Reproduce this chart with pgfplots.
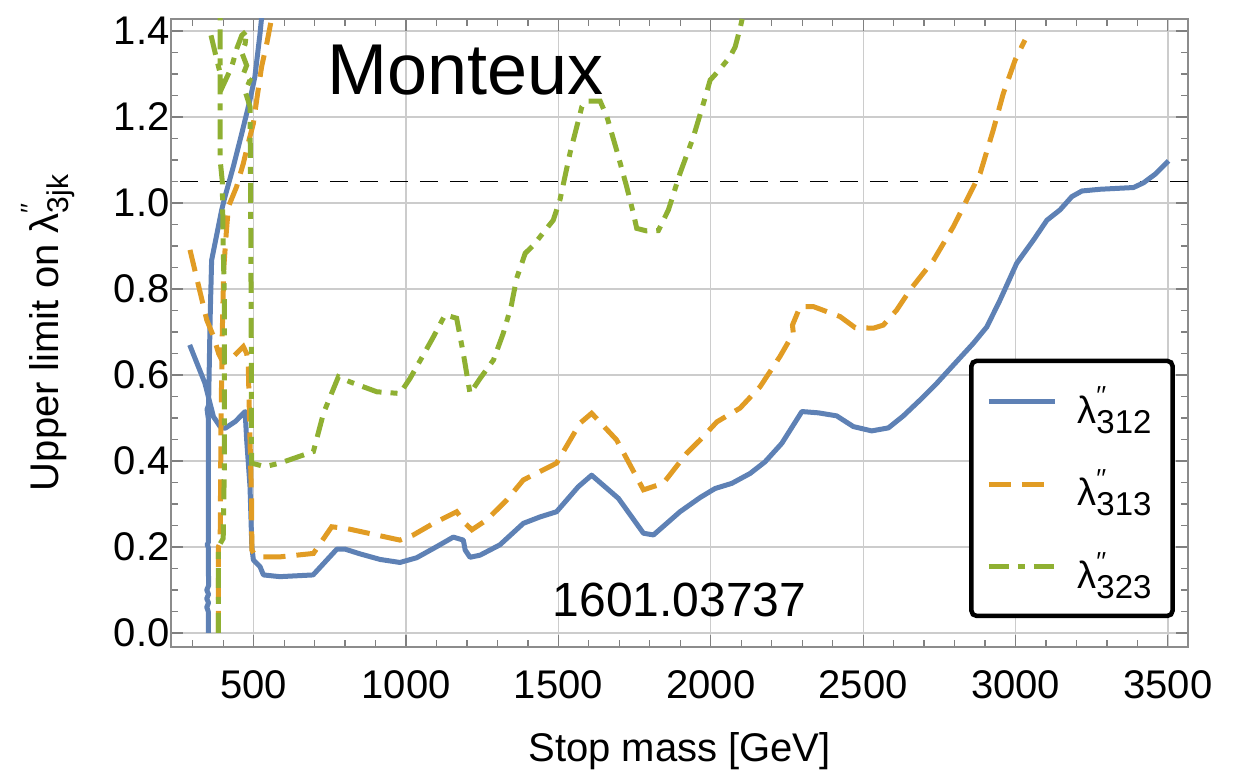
\documentclass[border=0pt]{standalone}
\usepackage{fontspec}
\setmainfont{Liberation Sans}
\usepackage{pgfplots}
\pgfplotsset{compat=1.18}
\definecolor{mblue}{RGB}{94,129,181}
\definecolor{morange}{RGB}{225,156,36}
\definecolor{mgreen}{RGB}{143,176,50}
\newcommand{\lamleg}[1]{\fontsize{38}{42}\selectfont λ\rlap{\raisebox{0.48em}{\fontsize{26}{26}\selectfont ′′}}\raisebox{-0.27em}{\fontsize{33}{33}\selectfont #1}}
\newcommand{\lamy}[1]{λ\rlap{\raisebox{0.5em}{\fontsize{26}{26}\selectfont ′′}}\raisebox{-0.25em}{\fontsize{30}{30}\selectfont #1}}
\begin{document}
\begin{tikzpicture}
\useasboundingbox (0,0) rectangle (1236pt,778pt);
\begin{axis}[
  at={(171pt,131pt)}, anchor=south west,
  width=1017pt, height=628pt, scale only axis,
  xmin=228.7, xmax=3566, ymin=-0.0326, ymax=1.428,
  unbounded coords=jump,
  xtick={500,1000,1500,2000,2500,3000,3500},
  minor xtick={300,400,...,3500},
  ytick={0,0.2,0.4,0.6,0.8,1.0,1.2,1.4},
  minor ytick={0.05,0.1,0.15,0.25,0.3,0.35,0.45,0.5,0.55,0.65,0.7,0.75,0.85,0.9,0.95,1.05,1.1,1.15,1.25,1.3,1.35},
  scaled ticks=false,
  tick pos=both, ticklabel pos=left, tick align=inside,
  major tick length=12pt, minor tick length=7pt,
  grid=major, major grid style={black!20, line width=1.3pt},
  axis line style={black!45, line width=1.5pt},
  tick style={black!50, line width=1.2pt},
  /pgf/number format/assume math mode=true,
  /pgf/number format/1000 sep={},
  yticklabel style={/pgf/number format/fixed, /pgf/number format/fixed zerofill, /pgf/number format/precision=1, xshift=2pt},
  ticklabel style={font=\fontsize{40}{44}\selectfont},
  xticklabel style={yshift=-20pt},
  label style={font=\fontsize{40}{44}\selectfont},
  xlabel={Stop mass [GeV]},
  ylabel={Upper limit on \lamy{3jk}},
  xlabel style={at={(axis description cs:0.5,-0.166)}, anchor=center},
  ylabel style={at={(axis description cs:-0.121,0.5)}, anchor=center},
  legend style={at={(0.987,0.046)}, anchor=south east, draw=black, line width=4.5pt,
    rounded corners=5pt, fill=white, inner xsep=15pt, inner ysep=20pt, row sep=33pt,
    cells={anchor=west}, nodes={inner sep=6pt}},
  legend image code/.code={\draw[#1] (0pt,0.42em) -- (66pt,0.42em);},
]
\addplot[black, line width=1.8pt, dash pattern=on 18pt off 12pt, forget plot] coordinates {(258,1.05) (3600,1.05)};

\addplot[mblue, line width=5pt, line join=round] coordinates {
(290,0.670) (340,0.581) (368,0.503) (390,0.480) (406,0.476) (440,0.492) (472,0.515) (477,0.449) (488,0.340) (494,0.200) (499,0.170) (521,0.154) (532,0.135) (586,0.131) (695,0.135) (773,0.195) (800,0.195) (849,0.184) (915,0.171) (980,0.164) (1035,0.175) (1101,0.201) (1155,0.223) (1188,0.216) (1194,0.193) (1210,0.176) (1243,0.181) (1308,0.205) (1385,0.255) (1440,0.270) (1494,0.282) (1565,0.340) (1609,0.367) (1697,0.313) (1779,0.232) (1812,0.228) (1899,0.282) (1965,0.315) (2014,0.336) (2069,0.348) (2129,0.371) (2178,0.398) (2233,0.441) (2299,0.515) (2353,0.512) (2413,0.505) (2468,0.480) (2528,0.470) (2583,0.477) (2632,0.505) (2687,0.542) (2742,0.581) (2796,0.623) (2862,0.674) (2906,0.712) (2949,0.774) (3004,0.860) (3059,0.914) (3103,0.960) (3146,0.984) (3185,1.015) (3218,1.028) (3278,1.032) (3387,1.036) (3420,1.047) (3458,1.067) (3502,1.098)
(nan,nan)
(351,0.0) (351,0.05) (346,0.06) (352,0.07) (346,0.08) (352,0.09) (346,0.10) (352,0.11) (351,0.20) (347,0.205) (351,0.21) (351,0.50) (347,0.52) (352,0.53) (357,0.728) (362,0.867) (384,0.945) (395,0.984) (406,1.015) (433,1.084) (461,1.162) (488,1.240) (504,1.294) (521,1.395) (530,1.46)
};
\addlegendentry{\hspace{14pt}\lamleg{312}\hspace{8pt}}

\addplot[morange, line width=5pt, dash pattern=on 22pt off 11pt] coordinates {
(291,0.891) (346,0.728) (368,0.690) (385,0.650) (400,0.628) (433,0.643) (466,0.666) (477,0.650) (482,0.628) (485,0.540) (488,0.449) (493,0.309) (494,0.193) (500,0.186) (520,0.177) (586,0.177) (696,0.185) (756,0.247) (805,0.243) (980,0.216) (1024,0.228) (1090,0.255) (1166,0.282) (1194,0.255) (1216,0.240) (1265,0.263) (1330,0.309) (1385,0.356) (1494,0.395) (1571,0.488) (1609,0.511) (1691,0.449) (1779,0.333) (1844,0.348) (1921,0.418) (1965,0.449) (2020,0.491) (2096,0.523) (2162,0.573) (2227,0.643) (2271,0.697) (2268,0.716) (2293,0.759) (2337,0.759) (2424,0.736) (2474,0.710) (2534,0.709) (2566,0.716) (2610,0.751) (2654,0.798) (2731,0.867) (2796,0.945) (2840,1.007) (2884,1.069) (2927,1.170) (2960,1.255) (2999,1.333) (3031,1.379)
(nan,nan)
(384,0.0) (384,0.20) (390,0.21) (393,0.50) (397,0.70) (402,0.85) (410,0.93) (417,0.991) (444,1.038) (466,1.092) (482,1.139) (499,1.185) (510,1.240) (526,1.317) (543,1.371) (559,1.43) (565,1.46)
};
\addlegendentry{\hspace{14pt}\lamleg{313}\hspace{8pt}}

\addplot[mgreen, line width=5pt, dash pattern=on 20pt off 9pt on 7pt off 9pt] coordinates {
(360,1.39) (379,1.333) (400,1.274) (428,1.317) (445,1.36) (461,1.39) (477,1.40) (472,1.37) (461,1.35) (477,1.32) (466,1.30) (488,1.286) (472,1.26) (488,1.224) (490,1.0) (492,0.7) (493,0.395) (537,0.387) (586,0.395) (696,0.422) (729,0.511) (778,0.596) (816,0.584) (904,0.561) (980,0.557) (1013,0.592) (1057,0.647) (1090,0.689) (1128,0.740) (1166,0.732) (1188,0.650) (1210,0.557) (1243,0.592) (1287,0.635) (1319,0.697) (1345,0.760) (1363,0.825) (1391,0.883) (1418,0.902) (1483,0.960) (1505,1.007) (1538,1.116) (1577,1.224) (1593,1.237) (1637,1.237) (1659,1.201) (1691,1.123) (1724,1.038) (1746,0.976) (1757,0.941) (1790,0.935) (1828,0.936) (1861,0.984) (1899,1.069) (1943,1.154) (1976,1.232) (1998,1.286) (2025,1.307) (2063,1.340) (2080,1.363) (2096,1.406) (2110,1.45)
(nan,nan)
(384,0.0) (384,0.20) (392,0.21) (400,0.22) (404,0.40) (404,0.77) (400,0.90) (397,1.05) (390,1.10) (390,1.46)
};
\addlegendentry{\hspace{14pt}\lamleg{323}\hspace{8pt}}

\node[anchor=base, font=\fontsize{72}{80}\selectfont] at (rel axis cs:0.290,0.879) {Monteux};
\node[anchor=base, font=\fontsize{48}{52}\selectfont] at (rel axis cs:0.500,0.048) {1601.03737};
\end{axis}
\end{tikzpicture}
\end{document}
